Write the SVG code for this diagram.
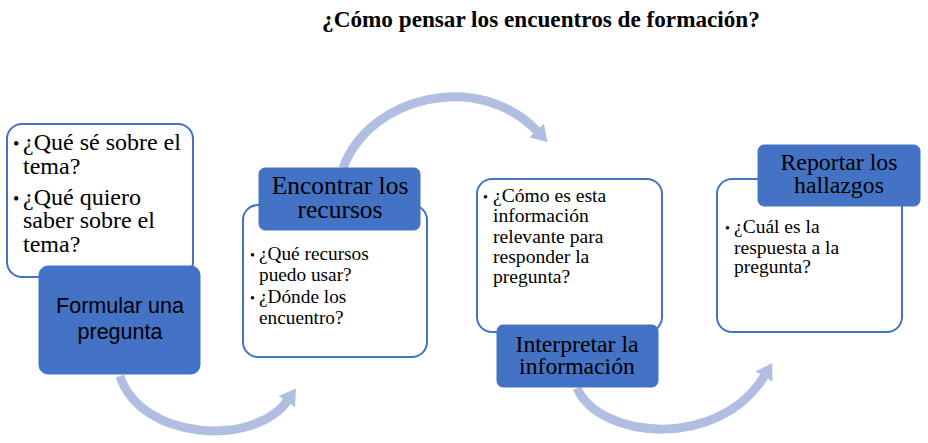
<svg xmlns="http://www.w3.org/2000/svg" width="928" height="443" viewBox="0 0 928 443">
<style>
.panel{fill:#ffffff;stroke:#4472C4;stroke-width:2}
.head{fill:#4472C4;stroke:#4472C4;stroke-width:1}
.serif{font-family:"Liberation Serif","Times New Roman",serif;fill:#000}
.sans{font-family:"Liberation Sans",Arial,sans-serif;fill:#000}
.lbl{text-anchor:middle}
.arc{fill:none;stroke:#B0BEE1;stroke-width:9}
</style>
<defs>
<marker id="ah" viewBox="0 0 8 10" refX="1" refY="5" markerWidth="16" markerHeight="21" markerUnits="userSpaceOnUse" orient="auto">
<path d="M0,0 L8,5 L0,10 z" fill="#B0BEE1"/>
</marker>
</defs>
<rect width="928" height="443" fill="#ffffff"/>
<text class="serif" x="541" y="27" font-size="23.2" font-weight="bold" text-anchor="middle">¿Cómo pensar los encuentros de formación?</text>
<g id="connectors">
<path class="arc" d="M120,376 C140,440 255,448 288,400" marker-end="url(#ah)"/>
<path class="arc" d="M343,168 C370,95 480,70 538,132" marker-end="url(#ah)"/>
<path class="arc" d="M577,388 C600,440 720,450 765,375" marker-end="url(#ah)"/>
</g>
<g id="node1">
<rect class="panel" x="7" y="124" width="186" height="153" rx="15"/>
<g class="serif" font-size="24">
<text x="13" y="150" font-size="18">•</text>
<text x="23" y="150">¿Qué sé sobre el</text>
<text x="23" y="174">tema?</text>
<text x="13" y="205" font-size="18">•</text>
<text x="23" y="205">¿Qué quiero</text>
<text x="23" y="228">saber sobre el</text>
<text x="23" y="252">tema?</text>
</g>
<rect class="head" x="39" y="266" width="161" height="108" rx="9"/>
<g class="sans lbl" font-size="21.5">
<text x="120" y="313">Formular una</text>
<text x="120" y="339">pregunta</text>
</g>
</g>
<g id="node2">
<rect class="panel" x="243" y="205" width="184" height="152" rx="15"/>
<g class="serif" font-size="19.3">
<text x="250" y="260" font-size="14">•</text>
<text x="259" y="260">¿Qué recursos</text>
<text x="259" y="281">puedo usar?</text>
<text x="250" y="303" font-size="14">•</text>
<text x="259" y="303">¿Dónde los</text>
<text x="259" y="324">encuentro?</text>
</g>
<rect class="head" x="259" y="168" width="161" height="62" rx="6"/>
<g class="serif lbl" font-size="25.5">
<text x="340" y="194">Encontrar los</text>
<text x="340" y="218">recursos</text>
</g>
</g>
<g id="node3">
<rect class="panel" x="477" y="179" width="185" height="153" rx="15"/>
<g class="serif" font-size="19.6">
<text x="483" y="202" font-size="14">•</text>
<text x="493" y="202">¿Cómo es esta</text>
<text x="493" y="222">información</text>
<text x="493" y="243">relevante para</text>
<text x="493" y="263">responder la</text>
<text x="493" y="283">pregunta?</text>
</g>
<rect class="head" x="497" y="325" width="161" height="62" rx="6"/>
<g class="serif lbl" font-size="23.7">
<text x="577" y="352">Interpretar la</text>
<text x="577" y="374">información</text>
</g>
</g>
<g id="node4">
<rect class="panel" x="717" y="179" width="185" height="153" rx="15"/>
<g class="serif" font-size="19.5">
<text x="725" y="233" font-size="14">•</text>
<text x="734" y="233">¿Cuál es la</text>
<text x="734" y="254">respuesta a la</text>
<text x="734" y="273">pregunta?</text>
</g>
<rect class="head" x="758" y="145" width="162" height="61" rx="6"/>
<g class="serif lbl" font-size="23.8">
<text x="839" y="170">Reportar los</text>
<text x="839" y="193">hallazgos</text>
</g>
</g>
</svg>
